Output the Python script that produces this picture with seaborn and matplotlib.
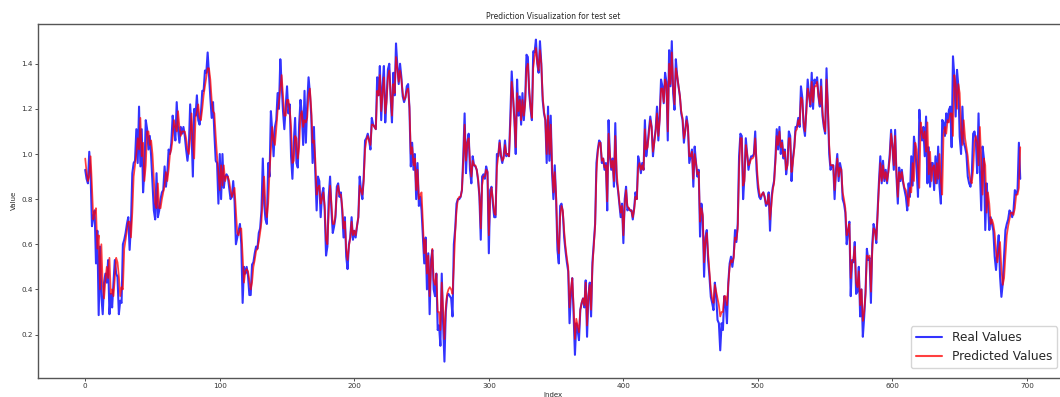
import numpy as np
import matplotlib
matplotlib.use("Agg")
import matplotlib.pyplot as plt
import seaborn as sns

title = "Prediction Visualization for test set"
x_label = "Index"
y_label = "Value"
series_names = ["Real Values", "Predicted Values"]

real_values = [
    0.93, 0.89, 0.87, 1.01, 0.91, 0.68, 0.72, 0.75, 0.515, 0.66,
    0.286, 0.59, 0.37, 0.29, 0.43, 0.47, 0.43, 0.53, 0.29, 0.38,
    0.32, 0.43, 0.53, 0.47, 0.455, 0.29, 0.35, 0.34, 0.60, 0.62,
    0.65, 0.69, 0.72, 0.575, 0.69, 0.915, 0.96, 0.97, 1.11, 0.96,
    1.21, 0.945, 1.11, 0.83, 0.93, 1.15, 1.11, 1.02, 1.08, 0.99,
    0.87, 0.75, 0.71, 0.915, 0.72, 0.75, 0.80, 0.83, 0.84, 0.945,
    0.855, 0.915, 1.02, 1.00, 1.05, 1.17, 1.11, 1.06, 1.23, 1.11,
    1.05, 1.12, 1.09, 1.12, 1.08, 1.02, 0.97, 1.03, 1.22, 1.10,
    0.90, 1.20, 1.17, 1.26, 1.15, 1.13, 1.18, 1.28, 1.28, 1.37,
    1.36, 1.45, 1.35, 1.25, 1.16, 1.23, 1.09, 0.97, 0.96, 0.78,
    1.00, 0.80, 1.00, 0.85, 0.90, 0.91, 0.90, 0.85, 0.80, 0.81,
    0.88, 0.79, 0.60, 0.63, 0.66, 0.69, 0.60, 0.34, 0.50, 0.47,
    0.50, 0.46, 0.375, 0.375, 0.51, 0.52, 0.56, 0.59, 0.58, 0.65,
    0.67, 0.75, 0.98, 0.78, 0.71, 0.69, 0.96, 0.90, 1.19, 1.10,
    0.99, 1.12, 1.15, 1.27, 1.20, 1.42, 1.31, 1.19, 1.11, 1.21,
    1.30, 1.18, 1.22, 0.99, 0.89, 1.05, 1.16, 0.96, 0.94, 1.13,
    1.24, 1.18, 1.04, 1.28, 1.05, 1.22, 1.34, 1.27, 1.17, 0.96,
    1.12, 0.92, 0.75, 0.90, 0.88, 0.72, 0.82, 0.85, 0.75, 0.55,
    0.59, 0.81, 0.90, 0.75, 0.65, 0.68, 0.72, 0.855, 0.87, 0.81,
    0.83, 0.75, 0.63, 0.72, 0.545, 0.49, 0.60, 0.63, 0.72, 0.62,
    0.66, 0.63, 0.68, 0.72, 0.90, 0.84, 0.80, 0.90, 1.06, 1.07,
    1.09, 1.06, 1.02, 1.16, 1.13, 1.12, 1.11, 1.34, 1.26, 1.39,
    1.15, 1.30, 1.39, 1.14, 1.25, 1.375, 1.40, 1.25, 1.14, 1.36,
    1.26, 1.49, 1.39, 1.31, 1.40, 1.34, 1.255, 1.23, 1.25, 1.30,
    1.31, 1.20, 0.945, 1.05, 0.93, 1.00, 0.80, 0.96, 0.77, 0.81,
    0.75, 0.634, 0.515, 0.63, 0.40, 0.56, 0.29, 0.53, 0.575, 0.40,
    0.37, 0.47, 0.22, 0.24, 0.15, 0.47, 0.25, 0.08, 0.30, 0.37,
    0.38, 0.37, 0.36, 0.28, 0.60, 0.67, 0.78, 0.80, 0.80, 0.81,
    0.84, 0.99, 1.18, 0.915, 1.05, 1.09, 0.93, 0.87, 0.99, 0.95,
    0.945, 0.93, 0.885, 0.81, 0.62, 0.90, 0.91, 0.89, 0.945, 0.92,
    0.56, 0.84, 0.855, 0.78, 0.72, 0.72, 1.00, 0.99, 1.06, 0.99,
    0.96, 0.99, 1.06, 0.99, 1.00, 0.99, 1.17, 1.366, 1.25, 1.15,
    1.00, 1.33, 1.17, 1.255, 1.13, 1.27, 1.15, 1.24, 1.44, 1.43,
    1.27, 1.20, 1.15, 1.455, 1.45, 1.507, 1.40, 1.36, 1.50, 1.40,
    1.24, 1.18, 1.15, 0.96, 1.21, 0.97, 1.17, 0.915, 0.80, 0.95,
    0.80, 0.575, 0.515, 0.77, 0.78, 0.74, 0.63, 0.57, 0.52, 0.48,
    0.25, 0.38, 0.45, 0.29, 0.11, 0.25, 0.22, 0.175, 0.31, 0.34,
    0.36, 0.32, 0.44, 0.19, 0.37, 0.43, 0.28, 0.52, 0.605, 0.69,
    0.96, 1.02, 1.06, 1.05, 0.96, 0.98, 0.93, 0.96, 0.75, 1.15,
    0.99, 0.93, 0.98, 0.855, 1.137, 0.88, 0.84, 0.78, 0.72, 0.78,
    0.605, 0.80, 0.855, 0.75, 0.76, 0.75, 0.75, 0.71, 0.76, 0.83,
    0.80, 0.99, 0.96, 0.915, 0.96, 0.93, 1.15, 0.99, 1.04, 1.107,
    1.166, 1.12, 0.99, 1.06, 1.11, 1.21, 1.06, 1.17, 1.33, 1.30,
    1.225, 1.36, 1.32, 1.06, 1.46, 1.30, 1.50, 1.27, 1.196, 1.42,
    1.344, 1.30, 1.255, 1.18, 1.15, 1.05, 1.107, 1.166, 1.12, 0.96,
    0.99, 1.02, 0.855, 1.033, 0.96, 0.90, 0.93, 0.634, 0.78, 0.72,
    0.456, 0.63, 0.663, 0.53, 0.456, 0.367, 0.34, 0.308, 0.43, 0.37,
    0.264, 0.25, 0.13, 0.25, 0.22, 0.37, 0.34, 0.25, 0.43, 0.515,
    0.545, 0.50, 0.55, 0.663, 0.61, 0.69, 0.99, 1.09, 1.08, 0.80,
    0.90, 1.07, 1.00, 0.93, 0.97, 0.99, 0.99, 1.00, 1.10, 0.93,
    0.85, 0.81, 0.80, 0.82, 0.83, 0.81, 0.77, 0.78, 0.83, 0.66,
    0.80, 0.85, 0.88, 0.98, 1.11, 1.02, 1.12, 1.00, 1.06, 0.98,
    1.02, 0.91, 0.96, 1.10, 1.08, 0.88, 0.98, 1.03, 1.12, 1.12,
    1.16, 1.12, 1.30, 1.25, 1.12, 1.08, 1.21, 1.33, 1.26, 1.21,
    1.36, 1.20, 1.33, 1.315, 1.34, 1.255, 1.21, 1.33, 1.17, 1.12,
    1.09, 1.38, 1.20, 1.00, 0.93, 0.95, 0.95, 0.80, 0.93, 1.00,
    0.88, 0.96, 0.93, 0.80, 0.78, 0.74, 0.60, 0.66, 0.70, 0.37,
    0.53, 0.52, 0.61, 0.38, 0.39, 0.50, 0.28, 0.40, 0.19, 0.28,
    0.39, 0.58, 0.53, 0.54, 0.34, 0.60, 0.69, 0.66, 0.605, 0.75,
    0.88, 0.99, 0.87, 0.97, 0.88, 0.93, 0.87, 0.93, 1.00, 1.107,
    1.03, 0.93, 1.107, 0.90, 0.78, 0.94, 0.88, 0.93, 0.87, 0.84,
    0.81, 0.75, 0.87, 0.81, 0.99, 0.86, 1.077, 1.02, 0.93, 0.81,
    1.196, 1.107, 1.06, 1.12, 0.99, 1.166, 0.87, 1.03, 0.855, 0.96,
    0.96, 0.84, 0.99, 0.87, 1.033, 0.855, 0.78, 1.151, 1.14, 1.08,
    1.18, 1.14, 1.196, 1.21, 1.03, 1.433, 1.344, 1.166, 1.373, 1.30,
    1.077, 1.00, 1.21, 1.05, 1.03, 1.00, 0.90, 0.87, 0.855, 0.91,
    1.09, 1.10, 1.06, 0.915, 1.18, 0.93, 0.75, 1.033, 0.98, 0.663,
    0.87, 0.78, 0.663, 0.72, 0.69, 0.66, 0.545, 0.486, 0.57, 0.64,
    0.456, 0.367, 0.426, 0.55, 0.663, 0.69, 0.71, 0.75, 0.74, 0.72,
    0.75, 0.84, 0.82, 0.84, 1.05, 0.89,
]

predicted_values = [
    0.98, 0.92, 0.88, 0.90, 0.99, 0.86, 0.71, 0.74, 0.76, 0.58,
    0.64, 0.40, 0.60, 0.42, 0.36, 0.44, 0.50, 0.45, 0.54, 0.38,
    0.40, 0.37, 0.45, 0.54, 0.52, 0.46, 0.37, 0.41, 0.40, 0.58,
    0.62, 0.66, 0.70, 0.70, 0.63, 0.74, 0.90, 0.95, 1.00, 1.07,
    1.02, 1.16, 0.99, 1.05, 0.88, 0.95, 1.10, 1.10, 1.04, 1.06,
    1.00, 0.89, 0.78, 0.76, 0.87, 0.76, 0.76, 0.80, 0.83, 0.86,
    0.92, 0.88, 0.93, 1.00, 1.02, 1.07, 1.15, 1.12, 1.10, 1.19,
    1.12, 1.08, 1.10, 1.10, 1.10, 1.07, 1.02, 1.00, 1.07, 1.18,
    1.06, 0.98, 1.16, 1.19, 1.22, 1.16, 1.15, 1.20, 1.26, 1.30,
    1.34, 1.38, 1.38, 1.33, 1.24, 1.19, 1.18, 1.08, 0.99, 0.92,
    0.84, 0.95, 0.86, 0.95, 0.88, 0.90, 0.90, 0.88, 0.84, 0.81,
    0.83, 0.85, 0.75, 0.65, 0.64, 0.67, 0.67, 0.55, 0.43, 0.48,
    0.49, 0.48, 0.44, 0.40, 0.43, 0.50, 0.53, 0.57, 0.58, 0.61,
    0.65, 0.70, 0.82, 0.90, 0.77, 0.72, 0.78, 0.92, 1.02, 1.12,
    1.06, 1.04, 1.11, 1.19, 1.23, 1.29, 1.35, 1.26, 1.17, 1.17,
    1.24, 1.24, 1.20, 1.12, 0.96, 0.97, 1.08, 1.07, 0.98, 1.03,
    1.17, 1.19, 1.12, 1.15, 1.14, 1.16, 1.26, 1.29, 1.20, 1.05,
    1.06, 0.98, 0.82, 0.85, 0.86, 0.78, 0.80, 0.83, 0.77, 0.62,
    0.60, 0.75, 0.86, 0.78, 0.69, 0.69, 0.73, 0.83, 0.86, 0.82,
    0.82, 0.77, 0.67, 0.70, 0.58, 0.53, 0.59, 0.63, 0.70, 0.64,
    0.66, 0.64, 0.68, 0.72, 0.86, 0.84, 0.82, 0.88, 1.02, 1.06,
    1.08, 1.06, 1.04, 1.13, 1.13, 1.12, 1.11, 1.28, 1.26, 1.35,
    1.19, 1.27, 1.34, 1.18, 1.23, 1.34, 1.37, 1.27, 1.17, 1.31,
    1.27, 1.43, 1.38, 1.32, 1.37, 1.33, 1.27, 1.24, 1.25, 1.28,
    1.29, 1.21, 1.00, 1.03, 0.95, 0.98, 0.84, 0.93, 0.80, 0.82,
    0.83, 0.70, 0.56, 0.62, 0.47, 0.55, 0.37, 0.50, 0.58, 0.44,
    0.42, 0.47, 0.30, 0.30, 0.22, 0.43, 0.31, 0.18, 0.32, 0.38,
    0.40, 0.41, 0.40, 0.38, 0.50, 0.65, 0.75, 0.80, 0.81, 0.81,
    0.84, 0.96, 1.13, 0.97, 1.05, 1.07, 0.97, 0.90, 0.97, 0.95,
    0.95, 0.93, 0.89, 0.82, 0.67, 0.86, 0.90, 0.90, 0.93, 0.92,
    0.64, 0.80, 0.85, 0.80, 0.74, 0.73, 0.94, 0.99, 1.05, 1.00,
    0.97, 0.98, 1.04, 1.00, 1.00, 0.99, 1.13, 1.32, 1.26, 1.16,
    1.03, 1.27, 1.19, 1.24, 1.15, 1.24, 1.17, 1.22, 1.38, 1.40,
    1.29, 1.21, 1.16, 1.38, 1.43, 1.47, 1.41, 1.37, 1.46, 1.40,
    1.26, 1.19, 1.15, 1.00, 1.17, 1.00, 1.13, 0.95, 0.83, 0.92,
    0.82, 0.62, 0.56, 0.72, 0.77, 0.75, 0.66, 0.59, 0.54, 0.50,
    0.32, 0.40, 0.45, 0.33, 0.18, 0.27, 0.24, 0.21, 0.31, 0.34,
    0.36, 0.33, 0.43, 0.24, 0.37, 0.42, 0.31, 0.50, 0.59, 0.68,
    0.92, 1.01, 1.05, 1.05, 0.97, 0.98, 0.94, 0.95, 0.79, 1.09,
    1.00, 0.94, 0.97, 0.88, 1.08, 0.92, 0.85, 0.79, 0.74, 0.77,
    0.64, 0.77, 0.84, 0.77, 0.76, 0.75, 0.75, 0.72, 0.75, 0.81,
    0.80, 0.94, 0.96, 0.93, 0.95, 0.93, 1.11, 1.02, 1.03, 1.09,
    1.15, 1.12, 1.01, 1.05, 1.10, 1.18, 1.08, 1.15, 1.29, 1.29,
    1.23, 1.33, 1.31, 1.10, 1.40, 1.31, 1.45, 1.30, 1.22, 1.38,
    1.35, 1.30, 1.26, 1.19, 1.16, 1.07, 1.10, 1.15, 1.12, 0.99,
    0.99, 1.01, 0.89, 1.00, 0.96, 0.91, 0.92, 0.70, 0.76, 0.73,
    0.52, 0.61, 0.65, 0.56, 0.48, 0.40, 0.36, 0.34, 0.42, 0.39,
    0.36, 0.33, 0.28, 0.30, 0.30, 0.37, 0.37, 0.33, 0.42, 0.50,
    0.53, 0.52, 0.54, 0.63, 0.62, 0.67, 0.93, 1.07, 1.07, 0.86,
    0.88, 1.04, 1.00, 0.95, 0.96, 0.98, 0.98, 0.99, 1.07, 0.97,
    0.88, 0.83, 0.81, 0.82, 0.83, 0.81, 0.78, 0.78, 0.82, 0.71,
    0.77, 0.84, 0.87, 0.96, 1.08, 1.04, 1.10, 1.03, 1.05, 0.99,
    1.01, 0.93, 0.95, 1.07, 1.07, 0.92, 0.96, 1.02, 1.10, 1.11,
    1.15, 1.13, 1.25, 1.24, 1.14, 1.10, 1.18, 1.29, 1.26, 1.22,
    1.32, 1.23, 1.30, 1.30, 1.32, 1.26, 1.22, 1.30, 1.19, 1.13,
    1.10, 1.33, 1.22, 1.04, 0.95, 0.95, 0.95, 0.84, 0.91, 0.98,
    0.90, 0.94, 0.93, 0.83, 0.80, 0.76, 0.64, 0.66, 0.69, 0.45,
    0.52, 0.53, 0.59, 0.43, 0.41, 0.48, 0.33, 0.40, 0.26, 0.30,
    0.38, 0.55, 0.54, 0.55, 0.39, 0.57, 0.67, 0.66, 0.62, 0.73,
    0.86, 0.96, 0.88, 0.95, 0.89, 0.92, 0.88, 0.92, 0.98, 1.09,
    1.04, 0.95, 1.08, 0.92, 0.81, 0.92, 0.89, 0.92, 0.88, 0.85,
    0.84, 0.81, 0.77, 0.85, 0.83, 0.96, 0.88, 1.05, 1.02, 0.94,
    0.85, 1.14, 1.10, 1.07, 1.10, 1.01, 1.14, 0.91, 1.01, 0.88,
    0.94, 0.95, 0.87, 0.96, 0.89, 1.00, 0.88, 0.82, 1.09, 1.12,
    1.09, 1.15, 1.14, 1.18, 1.18, 1.08, 1.35, 1.31, 1.20, 1.31,
    1.27, 1.11, 1.04, 1.15, 1.07, 1.03, 0.99, 0.92, 0.88, 0.87,
    0.93, 1.05, 1.08, 1.05, 0.95, 1.12, 0.97, 0.82, 0.98, 0.95,
    0.74, 0.83, 0.78, 0.69, 0.71, 0.69, 0.65, 0.57, 0.52, 0.57,
    0.61, 0.49, 0.42, 0.45, 0.55, 0.64, 0.68, 0.71, 0.74, 0.74,
    0.73, 0.76, 0.82, 0.82, 0.85, 1.03,
]

sns.set_style("ticks")
plt.rcParams["font.family"] = ["DejaVu Sans"]

fig = plt.figure(figsize=(10.6, 3.97), dpi=100)
ax = fig.add_axes([0.0363, 0.0486, 0.9703, 0.8922])

sns.lineplot(x=np.arange(len(real_values)), y=real_values, ax=ax,
             color="blue", alpha=0.8, linewidth=1.5, label=series_names[0])
sns.lineplot(x=np.arange(len(predicted_values)), y=predicted_values, ax=ax,
             color="red", alpha=0.75, linewidth=1.25, label=series_names[1])

ax.margins(x=0.05, y=0.05)
ax.set_title(title, fontsize=5.5, pad=3.5)
ax.set_xlabel(x_label, fontsize=5, labelpad=2)
ax.set_ylabel(y_label, fontsize=5, labelpad=3)
ax.set_xticks([0, 100, 200, 300, 400, 500, 600, 700])
ax.set_yticks([0.2, 0.4, 0.6, 0.8, 1.0, 1.2, 1.4])
ax.tick_params(labelsize=5.2, length=2, width=0.6, pad=2, colors="#333333")
for s in ax.spines.values():
    s.set_visible(True)
    s.set_color("#555555")
    s.set_linewidth(1.0)

leg = ax.legend(loc="lower right", fontsize=8.7, frameon=True,
                borderaxespad=0.8, fancybox=True, framealpha=0.8,
                handlelength=2.2)
leg.get_frame().set_edgecolor("#cccccc")
for h in leg.get_lines():
    h.set_linewidth(1.5)

fig.savefig("out.png", dpi=100)
